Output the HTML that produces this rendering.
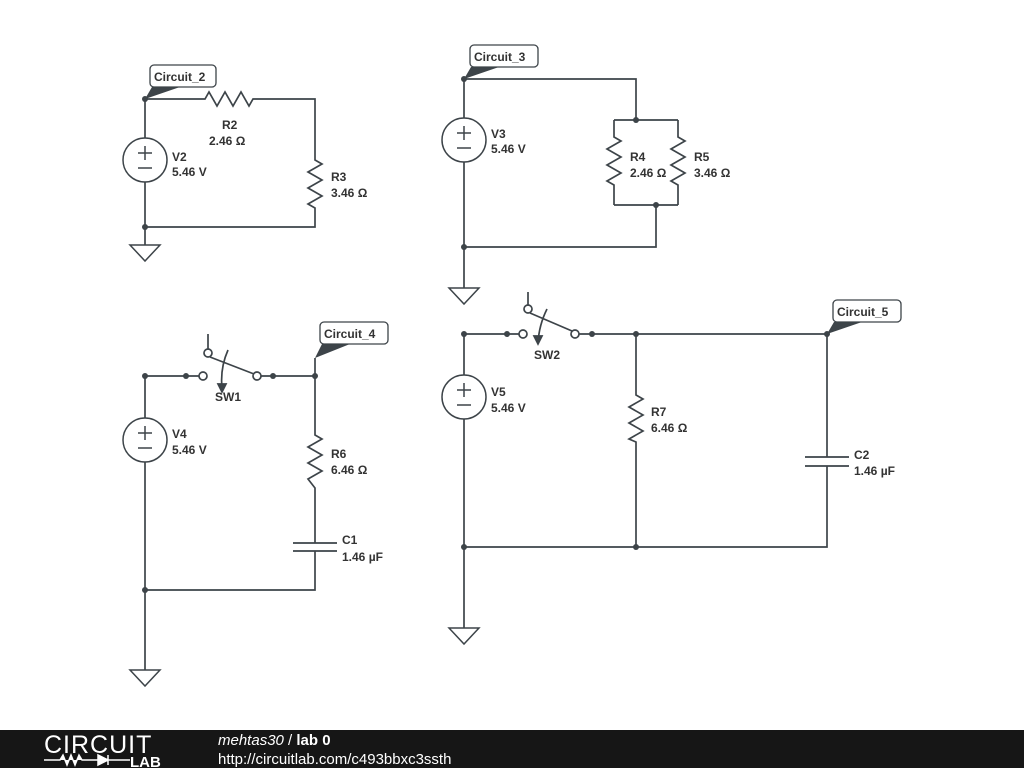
<!DOCTYPE html>
<html><head><meta charset="utf-8"><style>
html,body{margin:0;padding:0;background:#fff;width:1024px;height:768px;overflow:hidden}
svg text{font-family:"Liberation Sans","DejaVu Sans",sans-serif;font-size:12px;fill:#333;font-weight:bold}
</style></head><body>
<svg width="1024" height="768" viewBox="0 0 1024 768" xmlns="http://www.w3.org/2000/svg">
<defs>
<g id="vs"><circle cx="0" cy="0" r="22" fill="#fff" stroke="#3d4449" stroke-width="1.5"/>
<path d="M-7 -7H7M0 -14V0M-7 8H7" stroke="#3d4449" stroke-width="1.5" fill="none"/></g>
<g id="gnd"><path d="M-15 0H15L0 16Z" fill="#fff" stroke="#3d4449" stroke-width="1.5"/></g>
</defs>
<g stroke="#3d4449" stroke-width="1.7" fill="none">
<path d="M145 99V138M145 182V245M145 99H205L209 92L217 106L225 92L233 106L241 92L249 106L253 99H315V160L322 164L308 172L322 180L308 188L322 196L308 204L315 208V227H145"/>
<path d="M464 79V118M464 162V288M464 79H636V120M614 120H678M614 120V137L621 141L607 149L621 157L607 165L621 173L607 181L614 185V205M678 120V137L685 141L671 149L685 157L671 165L685 173L671 181L678 185V205M614 205H678M656 205V247H464"/>
<path d="M145 376V418M145 462V670M145 376H199M261 376H315M315 358V435L322 439L308 447L322 455L308 463L322 471L308 479L315 488V543M293 543H337M293 551H337M315 551V590H145M208 349V334M210 357L254 374M228 350Q220 368 222 388"/>
<path d="M218 384L222 392L226 384Z" fill="#3d4449"/>
<circle cx="203" cy="376" r="4" fill="#fff"/><circle cx="257" cy="376" r="4" fill="#fff"/><circle cx="208" cy="353" r="4" fill="#fff"/>
<path d="M464 334V375M464 419V628M464 334H519M579 334H827V457M805 457H849M805 466H849M827 466V547H464M636 334V395L643 399L629 407L643 415L629 423L643 431L629 439L636 442V547M528 305V292M530 313L572 331M547 309Q539 325 538 343"/>
<path d="M534 336L538 344L542 336Z" fill="#3d4449"/>
<circle cx="523" cy="334" r="4" fill="#fff"/><circle cx="575" cy="334" r="4" fill="#fff"/><circle cx="528" cy="309" r="4" fill="#fff"/>
</g>
<g fill="#3d4449">
<circle cx="145" cy="99" r="3"/><circle cx="145" cy="227" r="3"/>
<circle cx="464" cy="79" r="3"/><circle cx="636" cy="120" r="3"/><circle cx="656" cy="205" r="3"/><circle cx="464" cy="247" r="3"/>
<circle cx="145" cy="376" r="3"/><circle cx="186" cy="376" r="3"/><circle cx="273" cy="376" r="3"/><circle cx="315" cy="376" r="3"/><circle cx="145" cy="590" r="3"/>
<circle cx="464" cy="334" r="3"/><circle cx="507" cy="334" r="3"/><circle cx="592" cy="334" r="3"/><circle cx="636" cy="334" r="3"/><circle cx="827" cy="334" r="3"/><circle cx="464" cy="547" r="3"/><circle cx="636" cy="547" r="3"/>
</g>
<use href="#vs" x="145" y="160"/><use href="#vs" x="464" y="140"/><use href="#vs" x="145" y="440"/><use href="#vs" x="464" y="397"/>
<use href="#gnd" x="145" y="245"/><use href="#gnd" x="464" y="288"/><use href="#gnd" x="145" y="670"/><use href="#gnd" x="464" y="628"/>
<g fill="#3d4449"><path d="M145 99L152 87H180Z"/><path d="M464 79L471 67H499Z"/><path d="M315 358L322 344H350Z"/><path d="M827 334L834 322H862Z"/></g>
<g fill="#fff" stroke="#3d4449" stroke-width="1.3">
<rect x="150" y="65" width="66" height="22" rx="4"/><rect x="470" y="45" width="68" height="22" rx="4"/>
<rect x="320" y="322" width="68" height="22" rx="4"/><rect x="833" y="300" width="68" height="22" rx="4"/></g>
<text x="154" y="81">Circuit_2</text><text x="474" y="61">Circuit_3</text><text x="324" y="338">Circuit_4</text><text x="837" y="316">Circuit_5</text>
<text x="222" y="129">R2</text><text x="209" y="145">2.46 Ω</text>
<text x="172" y="161">V2</text><text x="172" y="176">5.46 V</text>
<text x="331" y="181">R3</text><text x="331" y="197">3.46 Ω</text>
<text x="491" y="138">V3</text><text x="491" y="153">5.46 V</text>
<text x="630" y="161">R4</text><text x="630" y="177">2.46 Ω</text>
<text x="694" y="161">R5</text><text x="694" y="177">3.46 Ω</text>
<text x="215" y="401">SW1</text>
<text x="172" y="438">V4</text><text x="172" y="454">5.46 V</text>
<text x="331" y="458">R6</text><text x="331" y="474">6.46 Ω</text>
<text x="342" y="544">C1</text><text x="342" y="561">1.46 µF</text>
<text x="534" y="359">SW2</text>
<text x="491" y="396">V5</text><text x="491" y="412">5.46 V</text>
<text x="651" y="416">R7</text><text x="651" y="432">6.46 Ω</text>
<text x="854" y="459">C2</text><text x="854" y="475">1.46 µF</text>
<rect x="0" y="730" width="1024" height="38" fill="#161616"/>
<text x="44" y="753" style="font-size:25px;fill:#fff;font-weight:normal;letter-spacing:1px">CIRCUIT</text>
<path d="M44 760H60L63 755L67 765L71 755L75 765L79 755L82 760H98M98 755V765L108 760ZM108 755V765M108 760H130" stroke="#fff" stroke-width="1.5" fill="#fff"/>
<text x="130" y="767" style="font-size:15px;fill:#fff;font-weight:bold">LAB</text>
<text x="218" y="745" style="font-size:15px;fill:#fff;font-weight:normal"><tspan font-style="italic">mehtas30</tspan> / <tspan font-weight="bold">lab 0</tspan></text>
<text x="218" y="764" style="font-size:15px;fill:#fff;font-weight:normal">http://circuitlab.com/c493bbxc3ssth</text>
</svg>
</body></html>
